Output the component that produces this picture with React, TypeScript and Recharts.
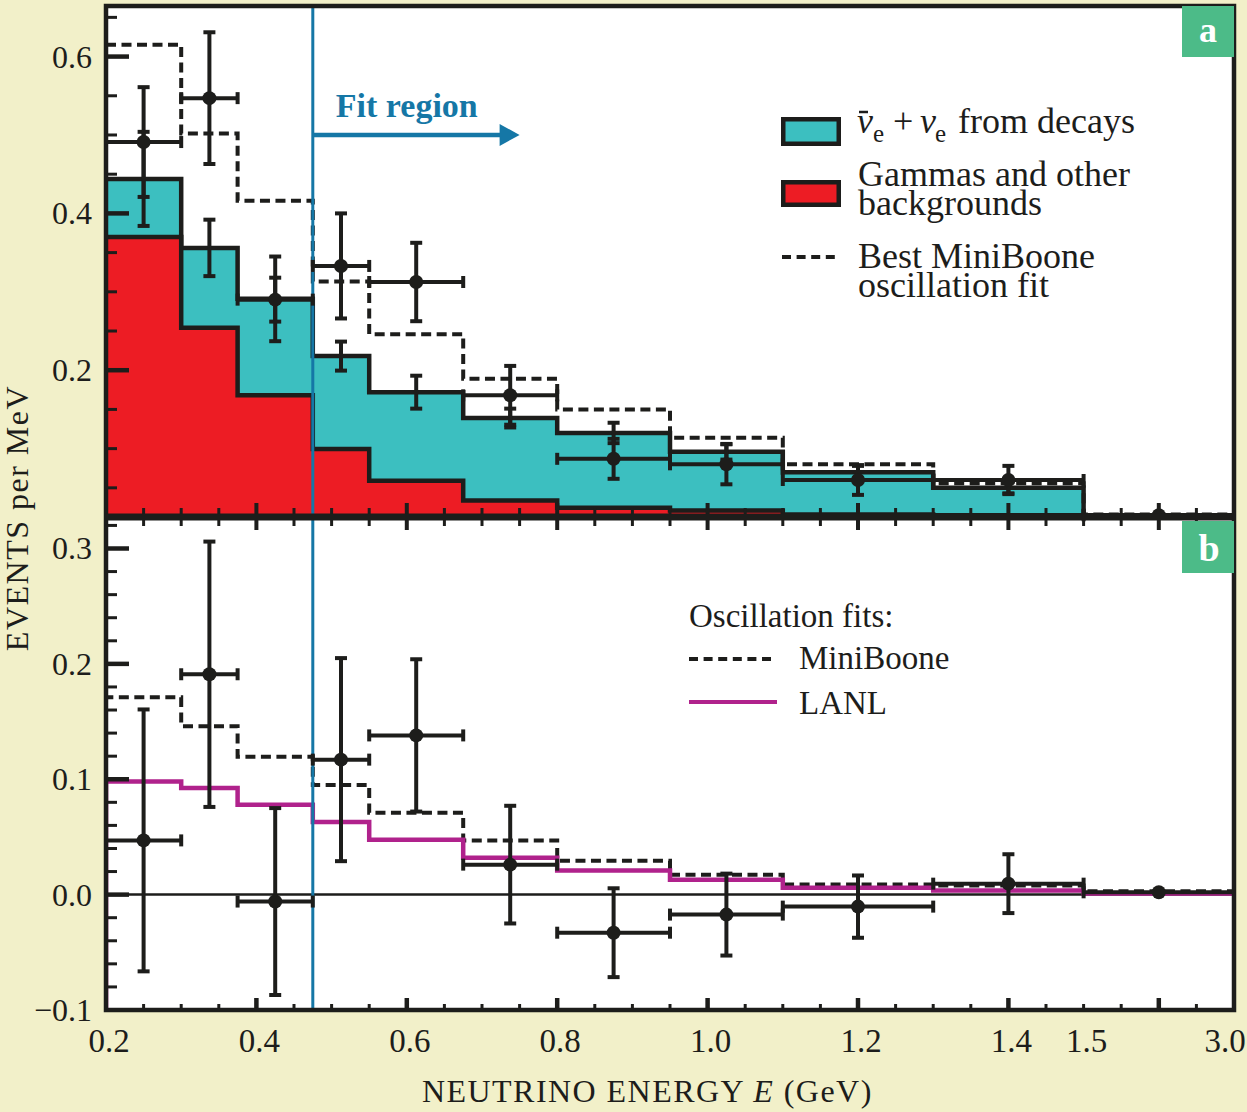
import React from 'react';
import { ComposedChart, Area, Line, Scatter, XAxis, YAxis, ErrorBar, ReferenceLine } from 'recharts';

// ---------- colours / fonts ----------
const INK = '#1d1d1b';
const TEAL = '#3cbfc0';
const RED = '#ed1c24';
const MAGENTA = '#b0228c';
const BLUE = '#1577a6';
const GREEN = '#4cbb88';
const BEIGE = '#f2f0c9';
const SERIF = '"Liberation Serif", "Times New Roman", "DejaVu Serif", serif';

// ---------- data (energies in GeV) ----------
const binEdges = [0.2, 0.3, 0.375, 0.475, 0.55, 0.675, 0.8, 0.95, 1.1, 1.3, 1.5, 3.0];
const binCenters = [0.25, 0.3375, 0.425, 0.5125, 0.6125, 0.7375, 0.875, 1.025, 1.2, 1.4, 2.25];

// panel a : predicted backgrounds, data, best MiniBooNE fit
const bgTotal = [0.444, 0.356, 0.291, 0.218, 0.172, 0.139, 0.12, 0.096, 0.07, 0.05, 0.015];
const bgGamma = [0.37, 0.254, 0.168, 0.0995, 0.059, 0.034, 0.0245, 0.021, 0.016, 0.015, 0.013];
const bgTotalErr = [0.06, 0.036, 0.054, 0.0185, 0.021, 0.012, 0.013, 0.01, 0.008, 0.007, 0.0];
const miniBooneFitA = [0.615, 0.502, 0.416, 0.313, 0.246, 0.189, 0.15, 0.114, 0.08, 0.056, 0.016];
const dataA = [0.491, 0.547, 0.29, 0.333, 0.3125, 0.168, 0.087, 0.08, 0.06, 0.06, 0.015];
const dataErrA = [0.07, 0.084, 0.028, 0.067, 0.05, 0.0375, 0.0255, 0.0255, 0.019, 0.018, 0.0];

// panel b : excess over background, oscillation fits
const excessB = [0.047, 0.191, -0.006, 0.117, 0.138, 0.026, -0.033, -0.0173, -0.0104, 0.0095, 0.002];
const excessErrB = [0.1135, 0.115, 0.081, 0.088, 0.066, 0.051, 0.0385, 0.0355, 0.027, 0.0255, 0.0];
const miniBooneFitB = [0.171, 0.146, 0.1195, 0.095, 0.071, 0.047, 0.0294, 0.0173, 0.0087, 0.008, 0.003];
const lanlFitB = [0.098, 0.0925, 0.078, 0.063, 0.0476, 0.032, 0.021, 0.013, 0.006, 0.0035, 0.001];

// axis tick labels
const xTickLabelValues = [0.2, 0.4, 0.6, 0.8, 1.0, 1.2, 1.4, 1.5, 3.0];
const xTickLabelText = ['0.2', '0.4', '0.6', '0.8', '1.0', '1.2', '1.4', '1.5', '3.0'];
const yMajorA = [0.2, 0.4, 0.6];
const yLabelA = ['0.2', '0.4', '0.6'];
const yMajorB = [-0.1, 0.0, 0.1, 0.2, 0.3];
const yLabelB = ['\u22120.1', '0.0', '0.1', '0.2', '0.3'];

// fit region annotation
const fitStart = 0.475;
const fitArrowEnd = 0.75;
const fitArrowY = 0.5;

// ---------- broken x axis: linear to 1.5 GeV, last bin compressed ----------
const X_MIN = 0.2;
const X_BREAK = 1.5;
const X_MAX = 3.0;
const X_MAX_D = 1.7;
const toD = (e: number) =>
  e <= X_BREAK ? e : X_BREAK + ((e - X_BREAK) * (X_MAX_D - X_BREAK)) / (X_MAX - X_BREAK);

const Y_A: [number, number] = [0.0128, 0.6645];
const Y_B: [number, number] = [-0.1, 0.3273];

// ---------- layout ----------
const W = 1247;
const H = 1112;
const PLOT_L = 106;
const PLOT_R = 1234;
const PLOT_T = 6;
const SPLIT = 517;
const PLOT_B = 1010;
const A_H = 540;

// ---------- derived tables ----------
const nBins = bgTotal.length;
const stepA = binEdges.map((e, i) => {
  const j = Math.min(i, nBins - 1);
  return { d: toD(e), total: bgTotal[j], gamma: bgGamma[j], fit: miniBooneFitA[j] };
});
const stepB = [
  { d: toD(binEdges[0]), mb: Y_B[0], lanl: Y_B[0] },
  ...binEdges.map((e, i) => {
    const j = Math.min(i, nBins - 1);
    return { d: toD(e), mb: miniBooneFitB[j], lanl: lanlFitB[j] };
  }),
];
const halfWidths = binCenters.map((_, i) => (toD(binEdges[i + 1]) - toD(binEdges[i])) / 2);
const pointsA = binCenters.map((c, i) => ({ d: toD(c), v: dataA[i], ey: dataErrA[i], ex: halfWidths[i] }));
const mcA = binCenters.map((c, i) => ({ d: toD(c), v: bgTotal[i], ey: bgTotalErr[i] }));
const pointsB = binCenters.map((c, i) => ({ d: toD(c), v: excessB[i], ey: excessErrB[i], ex: halfWidths[i] }));

const r3 = (v: number) => Math.round(v * 1000) / 1000;
const xTicks = Array.from({ length: 31 }, (_, i) => r3(0.2 + i * 0.05));
const yTicksA = Array.from({ length: 13 }, (_, i) => r3(0.05 + i * 0.05));
const yTicksB = Array.from({ length: 22 }, (_, i) => r3(-0.1 + i * 0.02));
const xMajor = [0.4, 0.6, 0.8, 1.0, 1.2, 1.4, 1.6];
const near = (a: number, b: number) => Math.abs(a - b) < 1e-6;

// ---------- tick renderers ----------
const XTickA = (p: any) => {
  const { x, y, payload } = p;
  const v = payload.value;
  if (near(v, X_MIN) || near(v, X_MAX_D)) return <g />;
  const major = xMajor.some((m) => near(m, v));
  return <line x1={x} x2={x} y1={y} y2={y - (major ? 14 : 9)} stroke={INK} strokeWidth={major ? 4 : 3} />;
};
const XTickTopB = (p: any) => {
  const { x, y, payload } = p;
  const v = payload.value;
  if (near(v, X_MIN) || near(v, X_MAX_D)) return <g />;
  const major = xMajor.some((m) => near(m, v));
  return <line x1={x} x2={x} y1={y} y2={y + (major ? 13 : 9)} stroke={INK} strokeWidth={major ? 4 : 3} />;
};
const XTickBottomB = (p: any) => {
  const { x, y, payload } = p;
  const v = payload.value;
  const edge = near(v, X_MIN) || near(v, X_MAX_D);
  const major = xMajor.some((m) => near(m, v));
  const li = xTickLabelValues.findIndex((lv) => near(toD(lv), v));
  const dx = near(v, X_MAX_D) ? -9 : 3;
  return (
    <g>
      {!edge && <line x1={x} x2={x} y1={y} y2={y - (major ? 12 : 6)} stroke={INK} strokeWidth={major ? 4.5 : 3} />}
      {li >= 0 && (
        <text x={x + dx} y={y + 42} textAnchor="middle" fontSize={33} fontFamily={SERIF} fill={INK}>
          {xTickLabelText[li]}
        </text>
      )}
    </g>
  );
};
const makeYTick = (majors: number[], labels: string[], edges: number[]) => (p: any) => {
  const { x, y, payload } = p;
  const v = payload.value;
  const mi = majors.findIndex((m) => near(m, v));
  const major = mi >= 0;
  const onEdge = edges.some((e) => near(e, v));
  return (
    <g>
      {!onEdge && <line x1={x} x2={x + (major ? 23 : 11)} y1={y} y2={y} stroke={INK} strokeWidth={major ? 4.5 : 3} />}
      {major && (
        <text x={x - 14} y={y} textAnchor="end" dominantBaseline="central" fontSize={32} fontFamily={SERIF} fill={INK}>
          {labels[mi]}
        </text>
      )}
    </g>
  );
};
const YTickA = makeYTick(yMajorA, yLabelA, []);
const YTickB = makeYTick(yMajorB, yLabelB, [Y_B[0]]);

const DataDot = (p: any) => <circle cx={p.cx} cy={p.cy} r={7} fill={INK} />;
const NoDot = () => <g />;

const FitArrow = (p: any) => {
  const { x1, y1, x2 } = p;
  return (
    <g>
      <line x1={x1} y1={y1} x2={x2 - 16} y2={y1} stroke={BLUE} strokeWidth={4.5} />
      <polygon points={`${x2},${y1} ${x2 - 20},${y1 - 11} ${x2 - 20},${y1 + 11}`} fill={BLUE} />
      <text x={x1 + 23} y={y1 - 18} fontSize={34} fontWeight="bold" fontFamily={SERIF} fill={BLUE}>
        Fit region
      </text>
    </g>
  );
};

const errProps = { stroke: INK, strokeWidth: 4, width: 6 };

export default function App() {
  return (
    <div style={{ position: 'absolute', left: 0, top: 0, width: W, height: H, background: BEIGE, overflow: 'hidden' }}>
      <div
        style={{
          position: 'absolute',
          left: PLOT_L,
          top: PLOT_T,
          width: PLOT_R - PLOT_L,
          height: PLOT_B - PLOT_T,
          background: '#ffffff',
        }}
      />
      {/* panel a */}
      <div style={{ position: 'absolute', left: 0, top: 0 }}>
        <ComposedChart
          width={W}
          height={A_H}
          data={stepA}
          margin={{ top: PLOT_T, right: W - PLOT_R, bottom: A_H - SPLIT - 10, left: PLOT_L - 60 }}
        >
          <XAxis
            type="number"
            dataKey="d"
            domain={[X_MIN, X_MAX_D]}
            allowDataOverflow
            ticks={xTicks}
            interval={0}
            tickLine={false}
            axisLine={false}
            tickSize={0}
            tickMargin={0}
            height={10}
            tick={XTickA}
          />
          <YAxis
            type="number"
            dataKey="v"
            domain={Y_A}
            allowDataOverflow
            ticks={yTicksA}
            interval={0}
            tickLine={false}
            axisLine={false}
            tickSize={0}
            tickMargin={0}
            width={60}
            tick={YTickA}
          />
          <Area
            type="stepAfter"
            dataKey="total"
            baseValue={Y_A[0]}
            fill={TEAL}
            fillOpacity={1}
            stroke={INK}
            strokeWidth={4.5}
            strokeLinejoin="miter"
            dot={false}
            activeDot={false}
            isAnimationActive={false}
          />
          <Area
            type="stepAfter"
            dataKey="gamma"
            baseValue={Y_A[0]}
            fill={RED}
            fillOpacity={1}
            stroke={INK}
            strokeWidth={4.5}
            strokeLinejoin="miter"
            dot={false}
            activeDot={false}
            isAnimationActive={false}
          />
          <Line
            type="stepAfter"
            dataKey="fit"
            stroke={INK}
            strokeWidth={4}
            strokeDasharray="10 5.5"
            dot={false}
            activeDot={false}
            isAnimationActive={false}
          />
          <ReferenceLine x={toD(fitStart)} stroke={BLUE} strokeWidth={3} />
          <ReferenceLine
            segment={[
              { x: toD(fitStart), y: fitArrowY },
              { x: toD(fitArrowEnd), y: fitArrowY },
            ]}
            shape={FitArrow}
          />
          <Scatter data={mcA} dataKey="v" shape={NoDot} isAnimationActive={false}>
            <ErrorBar dataKey="ey" direction="y" {...errProps} />
          </Scatter>
          <Scatter data={pointsA} dataKey="v" shape={DataDot} isAnimationActive={false}>
            <ErrorBar dataKey="ex" direction="x" {...errProps} />
            <ErrorBar dataKey="ey" direction="y" {...errProps} />
          </Scatter>
        </ComposedChart>
      </div>
      {/* panel b */}
      <div style={{ position: 'absolute', left: 0, top: 0 }}>
        <ComposedChart
          width={W}
          height={H}
          data={stepB}
          margin={{ top: SPLIT - 10, right: W - PLOT_R, bottom: H - PLOT_B - 60, left: PLOT_L - 60 }}
        >
          <XAxis
            type="number"
            dataKey="d"
            domain={[X_MIN, X_MAX_D]}
            allowDataOverflow
            ticks={xTicks}
            interval={0}
            tickLine={false}
            axisLine={false}
            tickSize={0}
            tickMargin={0}
            height={60}
            tick={XTickBottomB}
          />
          <XAxis
            xAxisId="top"
            orientation="top"
            type="number"
            dataKey="d"
            domain={[X_MIN, X_MAX_D]}
            allowDataOverflow
            ticks={xTicks}
            interval={0}
            tickLine={false}
            axisLine={false}
            tickSize={0}
            tickMargin={0}
            height={10}
            tick={XTickTopB}
          />
          <YAxis
            type="number"
            dataKey="v"
            domain={Y_B}
            allowDataOverflow
            ticks={yTicksB}
            interval={0}
            tickLine={false}
            axisLine={false}
            tickSize={0}
            tickMargin={0}
            width={60}
            tick={YTickB}
          />
          <ReferenceLine y={0} stroke={INK} strokeWidth={2.5} />
          <Line
            type="stepAfter"
            dataKey="mb"
            stroke={INK}
            strokeWidth={4}
            strokeDasharray="10 5.5"
            dot={false}
            activeDot={false}
            isAnimationActive={false}
          />
          <Line
            type="stepAfter"
            dataKey="lanl"
            stroke={MAGENTA}
            strokeWidth={4.5}
            strokeLinejoin="miter"
            dot={false}
            activeDot={false}
            isAnimationActive={false}
          />
          <ReferenceLine x={toD(fitStart)} stroke={BLUE} strokeWidth={3} />
          <Scatter data={pointsB} dataKey="v" shape={DataDot} isAnimationActive={false}>
            <ErrorBar dataKey="ex" direction="x" {...errProps} />
            <ErrorBar dataKey="ey" direction="y" {...errProps} />
          </Scatter>
        </ComposedChart>
      </div>
      {/* frame, panel tags, titles, legends */}
      <svg
        width={W}
        height={H}
        style={{ position: 'absolute', left: 0, top: 0, pointerEvents: 'none' }}
        fontFamily={SERIF}
      >
        <rect x={PLOT_L} y={PLOT_T} width={PLOT_R - PLOT_L} height={PLOT_B - PLOT_T} fill="none" stroke={INK} strokeWidth={4.5} />
        <line x1={PLOT_L} x2={PLOT_R} y1={SPLIT} y2={SPLIT} stroke={INK} strokeWidth={7} />
        <rect x={1182} y={6} width={52} height={51} fill={GREEN} />
        <text x={1208} y={42} textAnchor="middle" fontSize={36} fontWeight="bold" fill="#ffffff">a</text>
        <rect x={1182} y={521} width={52} height={52} fill={GREEN} />
        <text x={1209} y={561} textAnchor="middle" fontSize={38} fontWeight="bold" fill="#ffffff">b</text>

        {/* axis titles */}
        <text x={422} y={1102} fontSize={32} letterSpacing={1.45} fill={INK}>
          NEUTRINO ENERGY <tspan fontStyle="italic">E</tspan> (GeV)
        </text>
        <text transform="translate(28, 518) rotate(-90)" textAnchor="middle" fontSize={32} letterSpacing={1.5} fill={INK}>
          EVENTS per MeV
        </text>

        {/* legend a */}
        <rect x={783.25} y={119.25} width={55.5} height={24.5} fill={TEAL} stroke={INK} strokeWidth={4.5} />
        <rect x={783.25} y={182.25} width={55.5} height={22.5} fill={RED} stroke={INK} strokeWidth={4.5} />
        <line x1={782} x2={837} y1={257} y2={257} stroke={INK} strokeWidth={4} strokeDasharray="9 5.6" />
        <line x1={859} x2={868} y1={112} y2={112} stroke={INK} strokeWidth={2.5} />
        <g fontSize={36} fill={INK}>
          <text x={857} y={133}>
            <tspan fontStyle="italic">ν</tspan>
            <tspan x={873} y={142} fontSize={25}>e</tspan>
            <tspan x={893} y={133}>+</tspan>
            <tspan x={920} y={133} fontStyle="italic">ν</tspan>
            <tspan x={935} y={142} fontSize={25}>e</tspan>
            <tspan x={958} y={133}>from decays</tspan>
          </text>
          <text>
            <tspan x={858} y={186}>Gammas and other</tspan>
            <tspan x={858} y={215}>backgrounds</tspan>
          </text>
          <text>
            <tspan x={858} y={268}>Best MiniBoone</tspan>
            <tspan x={858} y={297}>oscillation fit</tspan>
          </text>
        </g>

        {/* legend b */}
        <line x1={689} x2={772} y1={659} y2={659} stroke={INK} strokeWidth={4} strokeDasharray="9 5.6" />
        <line x1={689} x2={777} y1={702} y2={702} stroke={MAGENTA} strokeWidth={4} />
        <g fontSize={33} fill={INK}>
          <text x={689} y={627}>Oscillation fits:</text>
          <text x={799} y={669}>MiniBoone</text>
          <text x={799} y={714}>LANL</text>
        </g>
      </svg>
    </div>
  );
}
